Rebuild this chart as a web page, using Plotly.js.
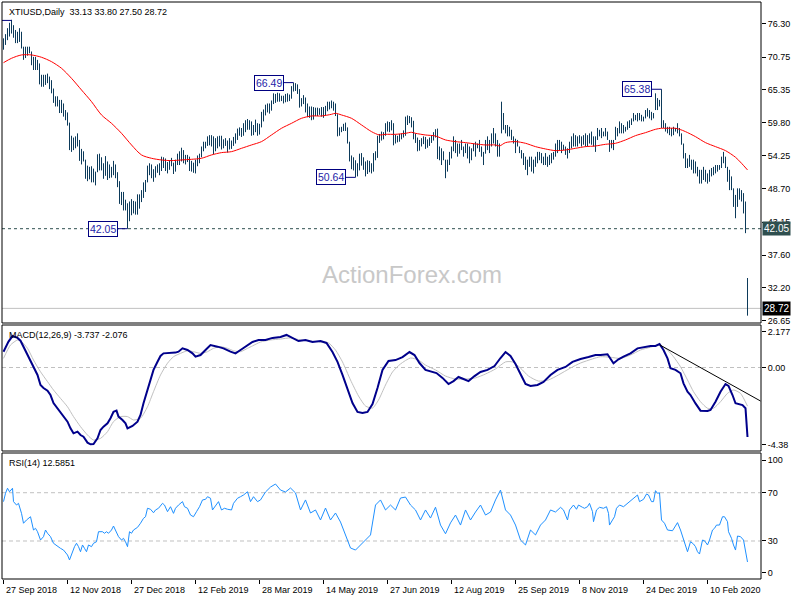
<!DOCTYPE html>
<html><head><meta charset="utf-8">
<script src="https://cdn.plot.ly/plotly-3.0.1.min.js"></script>
<style>html,body{margin:0;padding:0;background:#fff}#chart{width:800px;height:600px}</style>
</head><body><div id="chart"></div>
<script>
// ---------------- data ----------------
const symbol = 'XTIUSD,Daily';
const lastOHLC = [33.13, 33.80, 27.50, 28.72];
const dateLabels = ['27 Sep 2018','12 Nov 2018','27 Dec 2018','12 Feb 2019','28 Mar 2019','14 May 2019','27 Jun 2019','12 Aug 2019','25 Sep 2019','8 Nov 2019','24 Dec 2019','10 Feb 2020'];
const dateLabelBars = [0,32,64,96,128,160,192,224,256,288,320,352];
const priceTicks = [76.30,70.75,65.35,59.80,54.25,48.70,43.15,37.60,32.20,26.65];
const priceTickText = ['76.30','70.75','65.35','59.80','54.25','48.70','43.15','37.60','32.20','26.65'];

const barLow = [
72.0,72.8,73.6,74.2,74.7,74.0,73.1,73.1,73.3,72.2, //0
70.3,70.6,71.0,71.4,69.4,68.6,68.6,68.6,66.2,65.8, //10
65.8,66.1,66.4,65.4,64.7,63.1,62.5,62.5,61.4,61.4, //20
60.8,60.2,59.3,55.2,54.9,55.2,55.5,55.8,53.4,52.8, //30
53.3,50.4,50.0,50.3,49.8,49.8,49.3,51.5,51.8,51.8, //40
50.4,50.9,50.2,50.5,50.6,51.0,50.5,49.0,46.2,46.0, //50
45.1,45.1,42.05,43.3,44.3,44.6,44.4,44.4,45.4,46.5, //60
47.2,48.2,49.8,51.0,50.5,49.9,50.6,51.4,51.0,51.7, //70
52.2,51.7,51.3,51.9,52.5,51.2,51.6,52.7,52.7,53.3, //80
53.0,52.8,53.2,51.7,51.6,51.4,51.3,52.5,53.0,54.0, //90
55.0,55.5,55.9,56.0,55.8,54.5,55.0,55.5,55.8,55.3, //100
55.5,55.9,54.8,55.3,55.4,55.9,56.3,56.9,57.6,57.4, //110
57.6,58.2,58.6,58.6,57.6,57.7,58.2,57.6,57.8,59.0, //120
60.0,61.0,61.5,61.3,61.8,62.9,63.1,63.3,63.3,63.4, //130
63.0,63.2,63.3,63.4,63.8,65.0,65.1,64.6,62.3,62.5, //140
62.9,61.5,60.7,60.6,60.2,60.3,60.9,60.9,61.1,60.8, //150
60.6,61.0,61.7,62.0,62.2,61.8,60.9,57.5,57.6,58.2, //160
58.4,58.4,56.3,53.3,52.0,51.8,50.64,50.8,51.8,52.6, //170
51.9,50.8,51.2,51.5,51.3,51.6,53.5,53.9,56.4,56.8, //180
57.0,57.6,58.3,58.2,58.5,56.0,56.3,56.5,56.6,57.0, //190
57.3,57.6,59.4,59.7,59.0,57.0,56.4,55.0,55.1,55.8, //200
56.2,55.4,55.6,55.9,56.4,56.8,57.3,53.7,53.5,52.7, //210
53.5,50.5,51.6,52.7,53.8,55.0,54.7,54.1,54.6,55.2, //220
54.1,54.7,53.8,53.0,53.5,55.0,54.1,55.5,54.9,54.1, //230
52.7,54.6,55.2,54.7,55.8,56.3,55.8,54.1,54.1,58.0, //240
58.6,58.0,57.5,57.5,56.9,56.3,54.7,55.8,54.7,53.8, //250
52.7,51.9,51.0,52.4,51.6,51.3,52.4,53.0,53.5,53.0, //260
52.7,52.7,52.4,52.7,53.0,53.6,54.1,54.7,55.2,54.7, //270
55.2,54.4,53.8,54.7,55.5,55.8,55.8,55.8,56.3,55.8, //280
56.1,55.8,55.8,56.3,56.1,55.8,54.9,56.9,57.5,57.2, //290
57.5,57.5,56.9,54.9,55.5,55.2,56.9,57.5,58.0,58.0, //300
58.0,58.3,58.6,58.9,59.4,60.0,60.2,60.0,60.2,60.0, //310
60.0,60.5,60.8,60.5,60.2,60.5,61.9,61.9,62.5,58.9, //320
58.9,58.3,58.0,57.7,57.5,57.7,58.3,58.0,57.5,56.1, //330
53.8,52.2,52.2,52.4,51.9,51.3,51.3,50.8,49.6,49.6, //340
50.2,49.9,49.6,49.9,50.8,51.0,51.3,51.6,51.9,52.2, //350
53.0,52.2,49.9,48.5,48.5,45.7,43.8,45.7,46.9,46.6, //360
44.6,41.3,27.50                                    //370
];
const barHigh = [
73.9,74.6,75.6,76.5,77.0,76.1,75.3,75.0,75.6,75.0, //0
72.5,72.5,72.5,72.5,71.7,70.8,70.8,70.3,69.7,67.8, //10
67.8,67.8,68.0,67.5,66.9,65.5,64.2,64.2,63.6,63.6, //20
63.0,61.9,61.5,59.8,57.6,57.3,57.5,58.0,56.9,55.4, //30
55.0,53.6,52.6,52.4,52.5,52.1,51.6,54.5,54.6,54.0, //40
53.0,54.2,53.3,52.8,52.4,53.4,52.8,51.5,50.0,48.2, //50
48.2,46.9,46.3,46.6,47.0,46.7,46.6,47.8,47.8,48.5, //60
49.8,50.2,52.6,53.0,52.8,52.0,52.5,52.8,53.0,54.1, //70
54.0,53.8,53.2,53.5,53.9,53.1,53.6,54.6,55.0,55.6, //80
55.2,54.4,54.4,54.1,53.4,53.1,53.6,54.3,54.6,55.8, //90
56.6,56.6,57.5,57.7,57.7,57.5,57.2,57.5,57.6,57.6, //100
57.0,57.2,56.8,57.2,56.8,57.4,58.0,58.8,59.0,58.9, //110
59.7,60.2,60.4,60.2,60.0,59.4,60.3,59.7,59.6,61.6, //120
62.0,62.8,63.0,63.0,63.5,64.7,64.6,64.8,64.7,64.3, //130
64.3,64.6,64.7,64.5,65.9,66.49,66.4,66.2,65.4,63.9, //140
64.4,64.0,63.0,62.5,62.5,62.4,62.3,62.3,62.2,62.4, //150
62.4,62.6,63.3,63.3,63.5,63.3,63.0,61.2,59.0,59.1, //160
59.6,59.8,59.0,56.6,54.3,54.0,53.5,53.0,54.6,54.7, //170
54.0,53.3,53.5,53.4,53.0,54.7,55.0,57.6,57.9,58.3, //180
58.2,59.7,60.0,59.9,60.2,59.7,57.8,57.6,57.9,58.0, //190
58.5,60.8,61.0,60.9,60.7,60.1,58.0,57.3,56.9,57.2, //200
57.5,57.4,57.0,57.3,57.6,58.2,58.7,58.8,55.8,55.5, //210
55.0,53.6,53.6,54.9,55.8,57.5,56.9,56.3,56.3,56.9, //220
55.8,56.3,56.3,55.8,55.5,56.3,56.6,56.3,56.9,55.8, //230
54.9,56.9,57.5,56.9,58.0,58.9,58.0,56.9,56.3,63.3, //240
61.4,59.4,59.4,59.1,58.6,57.5,57.1,56.9,55.8,55.2, //250
54.7,54.1,53.6,54.1,54.1,53.6,54.1,54.9,54.9,54.7, //260
54.1,54.7,54.1,54.4,54.7,54.9,56.3,56.9,56.9,56.6, //270
56.1,55.8,55.5,56.6,57.5,58.0,57.7,57.5,57.7,57.5, //280
57.7,58.0,57.7,58.0,58.3,57.5,57.5,58.9,58.6,58.9, //290
58.3,58.9,58.3,56.9,56.9,56.9,59.1,58.9,60.0,59.7, //300
59.4,59.1,60.0,60.2,60.5,61.4,61.1,61.4,61.4,61.1, //310
60.8,61.9,62.2,61.9,61.6,61.4,64.7,63.9,63.6,65.38, //320
60.2,59.7,59.1,59.1,58.9,59.1,58.9,59.7,58.9,58.0, //330
56.3,54.7,53.8,54.4,53.6,53.6,53.3,52.4,51.9,51.9, //340
52.4,51.9,51.3,51.9,52.2,52.4,52.7,52.7,52.7,54.1, //350
54.9,54.1,52.4,51.9,50.8,48.8,47.7,48.8,48.8,48.5, //360
48.0,46.6,33.80                                    //370
];

const maBar = [0,4,9,14,19,24,29,34,39,44,49,54,59,64,69,74,79,84,89,94,99,104,109,114,119,124,129,134,139,144,149,154,159,164,166,169,174,179,184,188,191,196,201,204,206,211,216,221,226,231,236,241,246,248,251,256,261,266,271,276,281,286,291,296,301,306,311,316,321,326,329,331,336,338,341,346,351,356,361,366,369,372];
const maVal = [69.83,70.56,71.12,71.12,70.73,70.00,68.89,67.21,65.26,63.31,61.08,59.68,58.01,56.06,54.39,53.83,53.55,53.44,53.55,53.66,53.83,54.39,54.78,54.94,55.50,56.06,56.62,57.73,58.85,59.68,60.52,60.91,60.91,61.19,61.36,61.08,60.52,59.41,58.29,57.73,57.84,57.84,58.01,58.18,58.01,57.73,57.56,56.90,56.62,56.45,56.23,56.06,56.06,55.89,56.45,56.62,56.34,55.78,55.39,55.11,55.22,55.50,55.78,55.89,56.17,56.34,56.90,57.62,58.12,58.68,58.85,58.85,58.85,58.68,58.29,57.45,56.45,55.78,55.11,54.00,53.00,51.88];

const macdBar = [0,2.5,4.5,7,8.5,10,12,13.5,15,17,18.5,20,22,23.5,25,27,28.5,30,32,33.5,35,37,38.5,40,42,43.5,45,47,48.5,50,52,53.5,55,56.5,57.5,59.5,61,62,64.5,67,68.5,70,72,73.5,75,77,78.5,80,83.5,86,87.5,89.5,92,94.5,96,98.5,101,103.5,107,110,113.5,116,118.5,122,124.5,127.5,131,134.5,138.5,141.5,144.5,147.5,151,154.5,158.5,161.5,164.5,167,169.5,172,174.5,177,179.5,182,184.5,187,189.5,192.5,196,199.5,203,205.5,208,211,213.5,216.5,219.5,222.5,225,227.5,230,232.5,235.5,238.5,242,245.5,248.5,251,253.5,256,258.5,261,263.5,267,270,273.5,277,281,284.5,288.5,292.5,296,298.5,302,305,307.5,310,313.5,317,320,323.5,326,328,330,332,333.5,336,338.5,340,342,343.5,346,348.5,352,353.5,356,358.5,361,362.5,364.5,366,369.5,371,372];
const macdVal = [0.85,1.39,1.69,1.59,1.44,1.12,0.67,0.40,0.04,-0.40,-0.94,-1.10,-1.25,-1.48,-1.91,-2.18,-2.38,-2.64,-2.91,-3.27,-3.54,-3.45,-3.63,-3.72,-4.04,-4.13,-4.11,-3.81,-3.36,-3.18,-3.00,-2.73,-2.38,-2.32,-2.64,-2.82,-3.00,-3.27,-3.14,-2.91,-2.55,-1.92,-1.21,-0.67,-0.13,0.31,0.62,0.76,0.76,0.80,0.85,1.03,0.94,0.76,0.58,0.67,0.94,1.21,1.12,1.03,0.85,0.76,0.94,1.21,1.37,1.48,1.48,1.59,1.64,1.75,1.59,1.42,1.48,1.37,1.42,1.32,0.83,0.30,-0.40,-1.10,-1.91,-2.39,-2.45,-2.39,-1.96,-1.10,-0.13,0.35,0.40,0.56,0.83,0.67,0.24,-0.13,-0.19,-0.30,-0.56,-0.89,-0.73,-0.51,-0.62,-0.73,-0.46,-0.24,-0.13,0.08,0.51,0.83,0.62,0.19,-0.35,-0.89,-0.99,-0.94,-0.78,-0.40,-0.13,0.03,0.30,0.46,0.56,0.67,0.67,0.71,0.23,0.44,0.58,0.76,1.03,1.09,1.16,1.16,1.26,0.94,0.49,-0.04,-0.13,-0.31,-0.85,-1.30,-1.48,-1.93,-2.32,-2.34,-2.28,-1.84,-1.30,-0.89,-0.99,-1.48,-1.92,-2.02,-2.19,-3.737];

const signalBar = [0,3.5,7,8.5,12,15,18.5,22,25,28.5,32,35,38.5,42,45,48.5,52,55,58.5,62,65,68.5,72,75,78.5,82,85,88.5,92,95,98.5,102,105,108.5,112,115,118.5,122,124.5,128.5,133.5,138.5,143.5,148.5,153.5,158.5,162.5,166,169.5,173.5,177.5,181,184.5,187.5,191,194.5,198.5,203.5,207.5,211,216,221,226,231,236,241,246,251,254.5,258.5,262.5,267.5,272.5,277.5,283.5,288.5,294.5,298.5,303.5,308.5,313.5,318.5,323.5,328,332,335,338.5,342,345,348.5,352,355,358.5,362,365,368.5,372];
const signalVal = [0.49,1.21,1.48,1.44,1.03,0.40,-0.23,-0.76,-1.21,-1.66,-2.11,-2.64,-3.18,-3.63,-3.90,-3.81,-3.45,-2.91,-2.64,-2.64,-2.82,-2.73,-2.11,-1.30,-0.40,0.23,0.58,0.76,0.90,0.85,0.76,0.85,1.03,1.12,1.03,0.90,0.85,1.03,1.16,1.37,1.48,1.53,1.59,1.48,1.42,1.37,1.32,0.94,0.30,-0.67,-1.53,-2.07,-2.18,-1.75,-0.94,-0.24,0.19,0.51,0.40,0.13,-0.13,-0.46,-0.62,-0.62,-0.56,-0.35,-0.08,0.30,0.30,-0.03,-0.46,-0.73,-0.67,-0.40,-0.03,0.24,0.46,0.58,0.55,0.49,0.67,0.94,1.09,1.21,0.94,0.58,0.04,-0.67,-1.30,-1.84,-2.19,-2.19,-1.84,-1.39,-1.21,-1.39,-2.076];

const trendBar = [328.2, 378.5];
const trendVal = [1.21, -1.80];

const rsiBar = [0,1,2,3,4.5,5,6.5,7.5,9,10,11.5,12.5,13.5,15,16,17,18.5,20,21,22,23.5,25,27,28.5,30,32,33,34.5,35.5,36.5,37.5,38.5,39.5,40.5,41.5,42.5,44,45,46.5,47.5,49.5,50.5,51.5,52.5,54,55,56.5,57.5,59,60,61,62,63,64,65,67,68.5,70,71,72,73.5,75,76,77.5,79.5,80.5,82,83.5,85,86,87.5,89.5,90.5,92,93.5,95,96.5,98,99.5,101,102,103.5,104.5,106,107.5,109,110.5,112,114,115,117,118.5,120,122,123.5,125,127,128.5,131,133.5,136,138.5,141,143.5,146,148.5,151,153.5,156,158.5,161,163.5,166,168.5,171,173.5,176,178.5,181,183.5,186,188.5,191,193.5,196,198.5,201,203.5,206,208.5,211,213.5,216,218.5,221,223.5,226,228.5,231,233.5,236,238.5,241,243.5,246,248.5,251,253.5,256,258.5,261,263.5,266,268.5,271,273.5,276,278.5,280,282,283,285,286.5,287.5,289.5,290.5,292,293,294.5,295,296.5,298,300,301.5,302.5,303,304.5,305.5,306.5,308,310,311,312.5,315,317,318,320,321.5,322.5,324,325,326,327,328,329,330.5,332,334.5,336,337,338.5,340,341,342,343.5,345,346,347,348,349.5,350.5,352,353,354.5,355.5,356.5,358,359.5,360.5,362,362.5,364,365,366,367,368.5,370,371,372];
const rsiVal = [62.6,69.5,73.7,70.8,73.7,62.6,59.8,61.2,52.9,44.7,47.4,48.8,50.1,39.1,40.5,37.7,30.8,33.6,39.1,36.4,33.6,28.1,25.3,23.9,22.5,18.4,14.3,21.1,25.3,28.1,25.3,21.1,26.7,23.9,21.1,26.7,25.3,28.1,29.4,37.7,37.7,36.4,37.7,36.4,39.1,42.4,37.7,33.6,30.8,32.2,29.4,25.3,37.7,36.4,39.1,41.3,44.7,48.8,50.1,57.1,56.3,53.4,55.7,57.1,61.2,59.8,54.3,58.4,52.9,57.1,59.8,62.6,58.4,57.1,51.5,50.1,54.3,58.4,64.0,64.5,66.7,65.4,55.7,59.0,62.6,55.7,57.1,56.3,55.7,61.2,65.4,66.7,68.1,70.8,62.6,66.7,62.6,64.0,70.6,74.7,77.2,72.2,70.6,73.9,69.8,55.7,64.0,53.2,55.7,47.4,57.3,47.4,53.2,45.7,35.0,24.2,22.5,26.7,30.8,35.0,59.8,64.0,55.7,59.8,55.7,65.6,66.4,59.8,55.7,47.4,55.7,49.0,58.0,43.2,36.0,45.0,51.5,43.2,55.7,47.4,54.0,59.8,51.5,54.0,64.0,72.2,55.7,51.5,43.2,30.8,26.7,39.1,35.0,43.2,47.4,55.7,54.0,57.9,55.7,47.4,55.7,59.8,56.3,59.8,57.9,57.1,58.4,61.2,54.3,46.0,55.7,57.9,57.1,58.4,52.9,43.2,47.4,50.1,57.1,59.8,58.4,59.8,62.6,65.4,68.1,62.6,64.5,68.9,68.1,62.6,62.6,71.7,69.5,70.0,47.4,44.7,39.1,38.5,43.2,45.2,39.1,30.8,26.7,21.1,29.4,27.5,25.3,21.1,19.2,30.8,30.2,26.7,30.8,39.1,40.5,43.2,43.2,50.1,50.1,46.0,37.7,32.2,26.7,22.5,34.1,33.6,30.8,21.1,12.6];

// swing-point labels (the first one, at the top-left, has its box off the chart edge)
const edgePeakBar = 4, edgePeakVal = 76.90;
const peakBar = [62, 145, 176, 329];
const peakVal = [42.05, 66.49, 50.64, 65.38];
const peakText = ['42.05','66.49','50.64','65.38'];
const supportLevel = 42.05;
const macdTitle = 'MACD(12,26,9)';
const macdLast = ['-3.737','-2.076'];
const macdTickText = ['2.177','0.00','-4.38'];
const rsiTitle = 'RSI(14)';
const rsiLast = '12.5851';
const rsiTickText = ['100','70','30','0'];
const rsiTickVal = [100,70,30,0];
const rsiLevels = [70,30];
const watermark = 'ActionForex.com';

// ---------------- layout geometry (pixels) ----------------
const W=800,H=600,mT=2,mB=21,mL=2,mR=39;
const plotH=H-mT-mB;
const dom=(top,bot)=>[Math.max(0,1-(bot-mT)/plotH), Math.min(1,1-(top-mT)/plotH)];
const mainDom=dom(2,323), macdDom=dom(325,451), rsiDom=dom(453,579);
const xRange=[-0.75,378.75];
const mainRange=[26.27,79.98], macdRange=[-4.488,2.284], rsiRange=[-1.49,102.9];
const FONT='Liberation Sans, Arial, sans-serif';
const FS=9;
const inset=(range,px)=>(range[1]-range[0])*px/126;
const macdTickPos=[macdRange[1]-inset(macdRange,6.5), 0, macdRange[0]+inset(macdRange,6.5)];
const rsiTickPos=[rsiRange[1]-inset(rsiRange,7), rsiTickVal[1], rsiTickVal[2], rsiRange[0]+inset(rsiRange,6.3)];

// ---------------- traces ----------------
const bx=[],by=[];
barLow.forEach((lo,i)=>{bx.push(i,i,null);by.push(lo,barHigh[i],null);});
const traces=[
 {type:'scatter',mode:'lines',x:bx,y:by,xaxis:'x',yaxis:'y',line:{color:'#0c3a5a',width:1},hoverinfo:'skip'},
 {type:'scatter',mode:'lines',x:maBar,y:maVal,yaxis:'y',line:{color:'#ff0000',width:1,shape:'spline',smoothing:0.8},hoverinfo:'skip'},
 {type:'scatter',mode:'lines',x:[xRange[0],edgePeakBar],y:[edgePeakVal,edgePeakVal],yaxis:'y',line:{color:'#000080',width:1},hoverinfo:'skip'},
 {type:'scatter',mode:'lines',x:signalBar,y:signalVal,yaxis:'y2',line:{color:'#c0c0c0',width:1,shape:'spline',smoothing:0.6},hoverinfo:'skip'},
 {type:'scatter',mode:'lines',x:macdBar,y:macdVal,yaxis:'y2',line:{color:'#00008b',width:2},hoverinfo:'skip'},
 {type:'scatter',mode:'lines',x:trendBar,y:trendVal,yaxis:'y2',line:{color:'#000000',width:1},hoverinfo:'skip'},
 {type:'scatter',mode:'lines',x:rsiBar,y:rsiVal,yaxis:'y3',line:{color:'#1e90ff',width:1},hoverinfo:'skip'}
];

// ---------------- shapes ----------------
const shapes=[];
['y','y2','y3'].forEach(a=>shapes.push({type:'rect',xref:'paper',yref:a+' domain',x0:0,x1:1,y0:0,y1:1,line:{color:'#000',width:1},layer:'above'}));
shapes.push({type:'line',xref:'paper',yref:'y',x0:0,x1:1,y0:supportLevel,y1:supportLevel,line:{color:'#2f4f4f',width:1,dash:'3px,3px'},layer:'below'});
shapes.push({type:'line',xref:'paper',yref:'y',x0:0,x1:1,y0:lastOHLC[3],y1:lastOHLC[3],line:{color:'#c0c0c0',width:1},layer:'below'});
shapes.push({type:'line',xref:'paper',yref:'y2',x0:0,x1:1,y0:0,y1:0,line:{color:'#c0c0c0',width:1,dash:'4px,3px'},layer:'below'});
rsiLevels.forEach(v=>shapes.push({type:'line',xref:'paper',yref:'y3',x0:0,x1:1,y0:v,y1:v,line:{color:'#c0c0c0',width:1,dash:'4px,3px'},layer:'below'}));

// ---------------- annotations ----------------
const ann=[];
const small={family:FONT,size:FS,color:'#000'};
ann.push({xref:'paper',yref:'y domain',x:0,y:1,xanchor:'left',yanchor:'top',xshift:5,yshift:-3,showarrow:false,
  text:symbol+'\u00a0\u00a0'+lastOHLC.map(v=>v.toFixed(2)).join(' '),font:small});
ann.push({xref:'paper',yref:'y2 domain',x:0,y:1,xanchor:'left',yanchor:'top',xshift:5,yshift:-3,showarrow:false,
  text:macdTitle+' '+macdLast.join(' '),font:small});
ann.push({xref:'paper',yref:'y3 domain',x:0,y:1,xanchor:'left',yanchor:'top',xshift:5,yshift:-3,showarrow:false,
  text:rsiTitle+' '+rsiLast,font:small});
ann.push({xref:'paper',yref:'y domain',x:0.54,y:0.15,xanchor:'center',yanchor:'middle',showarrow:false,
  text:watermark,font:{family:FONT,size:24,color:'#c8c8c8'}});
peakBar.forEach((b,k)=>ann.push({xref:'x',yref:'y',x:b,y:peakVal[k],text:peakText[k],showarrow:true,arrowhead:0,arrowwidth:1,
  arrowcolor:'#000080',ax:-25,ay:0,bgcolor:'#ffffff',bordercolor:'#000080',borderwidth:1,borderpad:1,
  font:{family:FONT,size:10.5,color:'#2424a8'}}));
ann.push({xref:'paper',yref:'y',x:1,y:supportLevel,xanchor:'left',yanchor:'middle',xshift:1,showarrow:false,
  text:supportLevel.toFixed(2),bgcolor:'#2f4f4f',borderpad:1,font:{family:FONT,size:10,color:'#fff'}});
ann.push({xref:'paper',yref:'y',x:1,y:lastOHLC[3],xanchor:'left',yanchor:'middle',xshift:1,showarrow:false,
  text:lastOHLC[3].toFixed(2),bgcolor:'#000000',borderpad:1,font:{family:FONT,size:10,color:'#fff'}});
dateLabelBars.forEach((b,k)=>ann.push({xref:'x',yref:'paper',x:b,y:0,xanchor:'left',yanchor:'top',xshift:0,yshift:-4,
  showarrow:false,text:dateLabels[k],font:small}));

const axY=(dom,range,tv,tt)=>({domain:dom,range:range,side:'right',anchor:'x',showgrid:false,zeroline:false,showline:false,
  ticks:'outside',ticklen:4,tickcolor:'#000',tickwidth:1,tickvals:tv,ticktext:tt,tickfont:{family:FONT,size:FS,color:'#000'},fixedrange:true});

const layout={
  width:W,height:H,margin:{l:mL,r:mR,t:mT,b:mB,pad:0},paper_bgcolor:'#fff',plot_bgcolor:'#fff',showlegend:false,
  xaxis:{domain:[0,1],range:xRange,anchor:'y3',showgrid:false,zeroline:false,showline:false,ticks:'outside',ticklen:4,
    tickcolor:'#000',tickvals:dateLabelBars,showticklabels:false,fixedrange:true},
  yaxis:axY(mainDom,mainRange,priceTicks,priceTickText),
  yaxis2:axY(macdDom,macdRange,macdTickPos,macdTickText),
  yaxis3:axY(rsiDom,rsiRange,rsiTickPos,rsiTickText),
  shapes:shapes,annotations:ann,hovermode:false
};
Plotly.newPlot('chart',traces,layout,{staticPlot:true,displayModeBar:false});
</script></body></html>
